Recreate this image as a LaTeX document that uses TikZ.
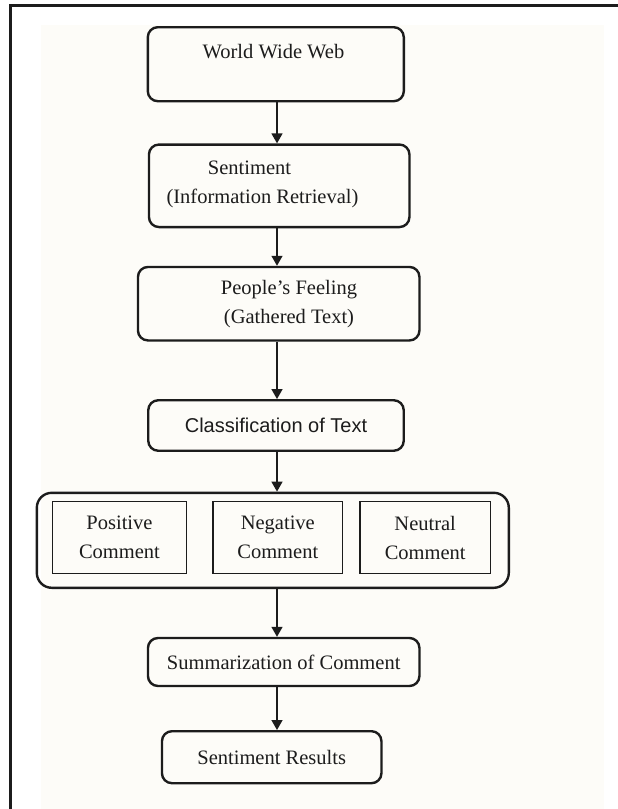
\documentclass[tikz,border=0pt]{standalone}
\usepackage{fontspec}
\setmainfont{Liberation Serif}
\setsansfont{Liberation Sans}
\usetikzlibrary{arrows.meta}
\definecolor{ink}{HTML}{1C1C1C}
\definecolor{paper}{HTML}{FDFCF8}
\tikzset{
  stagebox/.style={draw=ink, line width=2.4pt, rounded corners=10pt, inner sep=0pt},
  groupbox/.style={draw=ink, line width=2.4pt, rounded corners=15pt, inner sep=0pt},
  kindbox/.style={draw=ink, line width=1.4pt, inner sep=0pt, align=center},
  flow/.style={draw=ink, line width=1.5pt, -{Triangle[length=10pt,width=11pt]}}
}

\begin{document}
\begin{tikzpicture}[x=1pt,y=-1pt,font=\fontsize{20.5}{29}\selectfont,text=ink]
\useasboundingbox (0,0) rectangle (618,809);
\fill[paper] (41,25) rectangle (604,809);
\draw[ink,line width=3pt] (10.5,809) -- (10.5,5.5) -- (618,5.5);
\coordinate (axis) at (277,0);
\node[stagebox,minimum width=256pt,minimum height=74pt] (www) at (275.8,64.2) {};
\node (wwwtext) at (273.5,52) {World Wide Web};
\node[stagebox,minimum width=260.5pt,minimum height=82.5pt] (sent) at (279.2,185.8) {};
\node (senttop) at (249.5,168) {Sentiment};
\node (sentbot) at (262.5,198) {(Information Retrieval)};
\node[stagebox,minimum width=281.5pt,minimum height=73.5pt] (feel) at (278.7,303.7) {};
\node[align=center] (feeltext) at (289,304.5) {People's Feeling\\(Gathered Text)};
\node[stagebox,font=\sffamily\fontsize{20}{24}\selectfont,minimum width=255.5pt,minimum height=50.5pt] (class) at (276,425.5) {Classification of Text};
\node[groupbox,minimum width=472pt,minimum height=95pt] (group) at (272.8,540.3) {};
\node[kindbox,minimum width=134.5pt,minimum height=71.5pt] (pos) at (119.5,537.5) {Positive\\Comment};
\node[kindbox,minimum width=129.5pt,minimum height=71.5pt] (neg) at (277.8,537.5) {Negative\\Comment};
\node[kindbox,minimum width=130.5pt,minimum height=71.5pt] (neu) at (425.2,537.5) {Neutral\\Comment};
\node[stagebox,minimum width=271.5pt,minimum height=48pt] (summ) at (283.7,662) {Summarization of Comment};
\node[stagebox,minimum width=219.5pt,minimum height=52pt] (res) at (271.7,757.2) {Sentiment Results};
\draw[flow] (www.south -| axis) -- (sent.north -| axis);
\draw[flow] (sent.south -| axis) -- (feel.north -| axis);
\draw[flow] (feel.south -| axis) -- (class.north -| axis);
\draw[flow] (class.south -| axis) -- (group.north -| axis);
\draw[flow] (group.south -| axis) -- (summ.north -| axis);
\draw[flow] (summ.south -| axis) -- (res.north -| axis);
\end{tikzpicture}
\end{document}
